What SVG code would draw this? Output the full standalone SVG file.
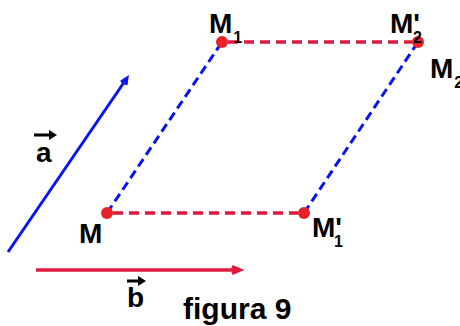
<svg xmlns="http://www.w3.org/2000/svg" width="460" height="326" viewBox="0 0 460 326">
<style>
text{font-family:"Liberation Sans",Arial,sans-serif;font-weight:bold;fill:#000}
.lbl{font-size:28px}
.sub{font-size:16px}
.blue{stroke:#0a14f0;stroke-width:3;fill:none}
.red{stroke:#e0193f;stroke-width:3.5;fill:none}
.dash-b{stroke-dasharray:9 5}
.dash-r{stroke-dasharray:10 6}
.dot{fill:#e8202a}
</style>
<g id="connectors">
<line class="blue dash-b" x1="107" y1="213" x2="222" y2="42"/>
<line class="blue dash-b" x1="304" y1="213" x2="418" y2="42"/>
<line class="red dash-r" x1="113" y1="213" x2="298" y2="213"/>
<line class="red dash-r" x1="228" y1="42" x2="412" y2="42"/>
</g>
<g id="vector-a">
<line class="blue" x1="8" y1="252" x2="127" y2="78"/>
<path d="M121 82 L127 78 L126 85" class="blue" stroke-width="2"/>
<line x1="34" y1="135" x2="52" y2="135" stroke="#000" stroke-width="3"/>
<path d="M49 130 L57 135 L49 140 Z" fill="#000"/>
<text class="lbl" x="36" y="162">a</text>
</g>
<g id="vector-b">
<line class="red" x1="36" y1="270" x2="238" y2="270" stroke-width="3"/>
<path d="M232 266.5 L240 270 L232 273.5" class="red" stroke-width="2"/>
<line x1="127" y1="281" x2="141" y2="281" stroke="#000" stroke-width="3"/>
<path d="M138 276 L146 281 L138 286 Z" fill="#000"/>
<text class="lbl" x="127" y="307">b</text>
</g>
<g id="M">
<circle class="dot" cx="107" cy="213" r="6"/>
<text class="lbl" x="79" y="243">M</text>
</g>
<g id="M1">
<circle class="dot" cx="222" cy="42" r="6"/>
<text class="lbl" x="209" y="33">M<tspan class="sub" dx="1" dy="10">1</tspan></text>
</g>
<g id="M2p">
<circle class="dot" cx="418" cy="42" r="6"/>
<text class="lbl" x="390" y="33">M'<tspan class="sub" dx="-7" dy="10">2</tspan></text>
</g>
<g id="M2">
<text class="lbl" x="430" y="78">M<tspan class="sub" dx="1" dy="10">2</tspan></text>
</g>
<g id="M1p">
<circle class="dot" cx="304" cy="213" r="6"/>
<text class="lbl" x="312" y="237">M'<tspan class="sub" dx="-8" dy="10">1</tspan></text>
</g>
<g id="caption">
<text x="183" y="319" font-size="30">figura 9</text>
</g>
</svg>
